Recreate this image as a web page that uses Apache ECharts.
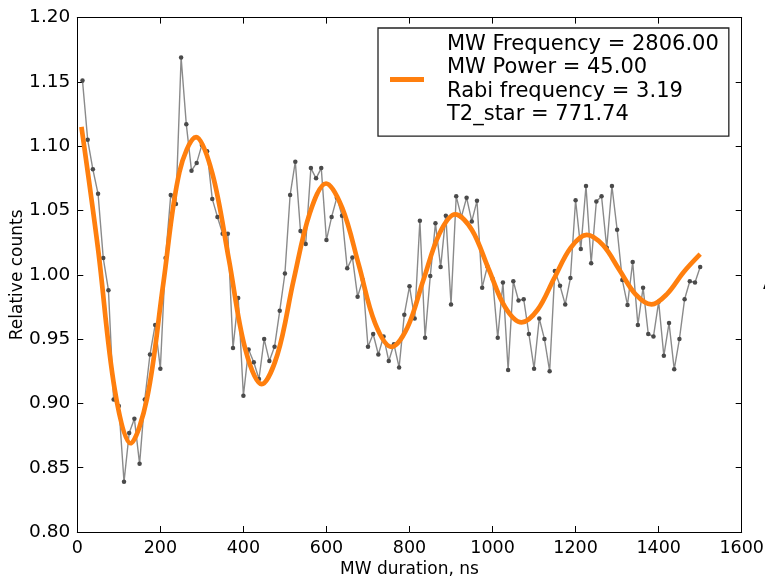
<!DOCTYPE html>
<html><head><meta charset="utf-8">
<script src="https://cdn.jsdelivr.net/npm/echarts@6/dist/echarts.min.js"></script>
<style>html,body{margin:0;padding:0;background:#fff}#c{width:765px;height:582px}</style>
</head><body><div id="c"></div>
<script>
// MW duration (ns) of each measured point
const durations = [12.5,25,37.5,50,62.5,75,87.5,100,112.5,125,137.5,150,162.5,175,187.5,200,212.5,225,237.5,250,
262.5,275,287.5,300,312.5,325,337.5,350,362.5,375,387.5,400,412.5,425,437.5,450,462.5,475,487.5,500,
512.5,525,537.5,550,562.5,575,587.5,600,612.5,625,637.5,650,662.5,675,687.5,700,712.5,725,737.5,750,
762.5,775,787.5,800,812.5,825,837.5,850,862.5,875,887.5,900,912.5,925,937.5,950,962.5,975,987.5,1000,
1012.5,1025,1037.5,1050,1062.5,1075,1087.5,1100,1112.5,1125,1137.5,1150,1162.5,1175,1187.5,1200,1212.5,1225,1237.5,1250,
1262.5,1275,1287.5,1300,1312.5,1325,1337.5,1350,1362.5,1375,1387.5,1400,1412.5,1425,1437.5,1450,1462.5,1475,1487.5,1500];
// Relative counts (measured)
const counts = [1.151,1.105,1.082,1.063,1.013,0.988,0.903,0.898,0.839,0.877,0.888,0.853,0.903,0.938,0.961,0.927,1.013,1.062,1.055,1.169,
1.117,1.081,1.087,1.101,1.096,1.059,1.045,1.032,1.032,0.943,0.982,0.906,0.942,0.932,0.919,0.950,0.933,0.944,0.972,1.001,
1.062,1.088,1.034,1.024,1.083,1.075,1.083,1.027,1.045,1.060,1.046,1.005,1.0135,0.983,0.996,0.944,0.954,0.938,0.952,0.933,
0.946,0.928,0.969,0.991,0.966,1.042,0.951,0.999,1.040,1.006,1.046,0.977,1.061,1.045,1.060,1.0415,1.0575,0.990,1.0065,0.997,
0.951,0.994,0.926,0.995,0.980,0.981,0.954,0.927,0.966,0.950,0.925,1.003,0.9915,0.977,0.9975,1.058,1.020,1.069,1.009,1.057,
1.061,1.021,1.069,1.035,0.996,0.9765,1.010,0.961,0.990,0.954,0.952,0.979,0.937,0.9625,0.9265,0.950,0.981,0.995,0.994,1.006];
// Fit curve
const fitT = [10,50,90,128,168,207,246,286,325,365,404,444,482,521,560,599,638,678,717,757,795,833,872,910,950,990,1030,1070,1109,1148,1188,1227,1266,1305,1344,1383,1420,1460,1500];
const fitV = [1.115,1.020,0.911,0.869,0.904,0.993,1.080,1.107,1.079,1.012,0.943,0.915,0.938,0.996,1.048,1.071,1.052,1.0075,0.9625,0.944,0.959,0.9955,1.032,1.047,1.035,1.005,0.975,0.963,0.973,0.997,1.021,1.031,1.023,1.004,0.985,0.977,0.985,1.002,1.016];
const legendLines = ['MW Frequency = 2806.00','MW Power = 45.00','Rabi frequency = 3.19','T2_star = 771.74'];
const xName = 'MW duration, ns';
const yName = 'Relative counts';

const FONT = 'DejaVu Sans';
const fitName = legendLines.join('\n');
const chart = echarts.init(document.getElementById('c'), null, {renderer:'canvas'});
const axisCommon = {
  axisLine:{show:true,onZero:false,lineStyle:{color:'#000',width:1}},
  axisTick:{show:true,inside:true,length:6,lineStyle:{color:'#000',width:1}},
  splitLine:{show:false}
};
chart.setOption({
  animation:false,
  backgroundColor:'#fff',
  grid:{left:77.3,right:23.3,top:17.6,bottom:50,containLabel:false,outerBoundsMode:'none'},
  xAxis:[
    Object.assign({type:'value',min:0,max:1600,interval:200,position:'bottom',
      axisLabel:{color:'#000',fontSize:17.5,fontFamily:FONT,margin:7,formatter:v=>String(v)},
      name:xName,nameLocation:'middle',nameGap:29,nameMoveOverlap:false,
      nameTextStyle:{color:'#000',fontSize:17,fontFamily:FONT}},axisCommon),
    Object.assign({type:'value',min:0,max:1600,interval:200,position:'top',axisLabel:{show:false}},axisCommon)
  ],
  yAxis:[
    Object.assign({type:'value',min:0.8,max:1.2,interval:0.05,position:'left',
      axisLabel:{color:'#000',fontSize:18.5,fontFamily:FONT,margin:7,formatter:v=>v.toFixed(2)},
      name:yName,nameLocation:'middle',nameGap:51,nameMoveOverlap:false,
      nameTextStyle:{color:'#000',fontSize:17,fontFamily:FONT}},axisCommon),
    Object.assign({type:'value',min:0.8,max:1.2,interval:0.05,position:'right',axisLabel:{show:false}},axisCommon)
  ],
  legend:{
    data:[fitName],left:378,top:28,orient:'vertical',icon:'rect',itemWidth:34,itemHeight:5,
    padding:[5,10,10,12],borderColor:'#222',borderWidth:1.3,backgroundColor:'#fff',borderRadius:0,
    selectedMode:false,
    textStyle:{fontFamily:FONT,fontSize:21,color:'#000',lineHeight:23.3,padding:[0,0,0,18]}
  },
  series:[
    {type:'line',name:'data',data:durations.map((d,i)=>[d,counts[i]]),symbol:'circle',symbolSize:4.5,
     showSymbol:true,lineStyle:{color:'#8a8a8a',width:1.4},itemStyle:{color:'#4a4a4a'},z:2,silent:true},
    {type:'line',name:fitName,data:fitT.map((t,i)=>[t,fitV[i]]),smooth:0.35,symbol:'none',
     lineStyle:{color:'#ff7f0e',width:4.7},itemStyle:{color:'#ff7f0e'},z:3,silent:true}
  ],
  graphic:[{type:'text',left:763,top:276,style:{text:'A',font:'17px DejaVu Sans',fill:'#000'}}]
});
</script></body></html>
